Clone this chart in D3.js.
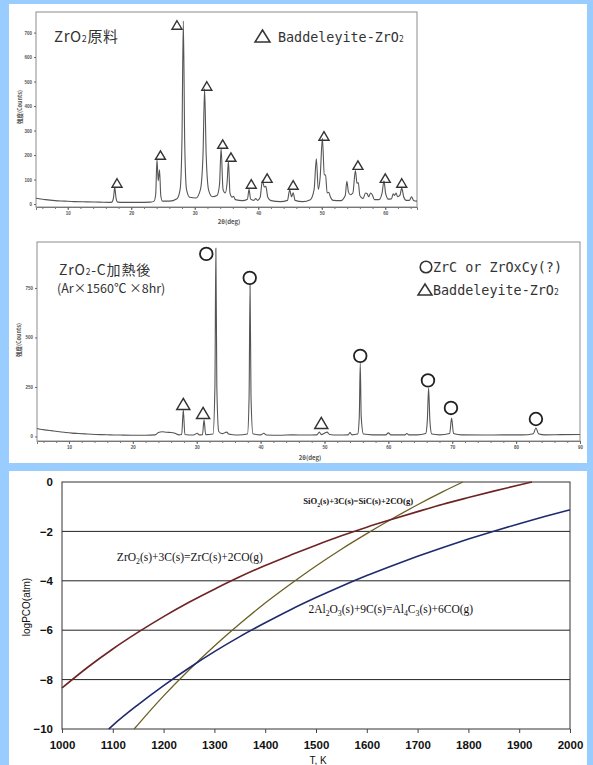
<!DOCTYPE html>
<html><head><meta charset="utf-8">
<script src="https://cdn.jsdelivr.net/npm/d3@7"></script>
<style>body{margin:0;background:#99ccff;} svg{display:block}</style>
</head><body>
<svg id="c" width="593" height="765"></svg>
<script>
// ---------- DATA ----------
// Panel 1: ZrO2 raw material XRD trace [2theta(deg), counts]
const rawTrace = [[5,24],[5.5,22],[6.5,18],[8,14],[9.5,12],[11,10],[13,9],[15,8],[16.6,7],
[16.95,8],[17.2,25],[17.4,68],[17.6,25],[17.85,8],[19,7],[21,7],[23,8],[23.6,12],
[23.85,40],[24.05,182],[24.25,95],[24.45,140],[24.65,35],[24.9,12],[26,12],[27.2,22],
[27.7,60],[27.98,250],[28.2,747],[28.42,250],[28.7,60],[29.2,28],[30.2,25],
[30.9,60],[31.3,200],[31.55,470],[31.8,200],[32.2,55],[32.8,30],[33.5,35],
[33.9,80],[34.15,228],[34.45,60],[34.8,45],[35.1,90],[35.3,175],[35.55,45],[35.9,28],[36.1,32],[36.4,18],[37.5,14],
[38.3,20],[38.55,60],[38.8,20],[39.3,15],[39.6,22],[39.9,15],[40.3,28],[40.65,95],[40.95,70],[41.2,72],[41.5,28],[42,14],[43.5,10],
[44.6,15],[44.95,58],[45.25,30],[45.5,46],[45.8,15],[47,10],[48.2,18],
[48.8,60],[49.15,185],[49.45,60],[49.75,110],[50.1,268],[50.4,120],[50.6,118],[50.85,45],[51.1,48],[51.35,30],[51.8,15],[53,14],
[53.7,35],[53.95,93],[54.2,50],[54.5,38],[54.9,45],[55.3,137],[55.55,85],[55.75,88],[56.0,35],[56.5,22],[56.9,45],[57.15,42],[57.4,30],[57.7,45],[57.95,38],[58.3,18],[59,18],
[59.5,45],[59.8,95],[60.05,45],[60.5,20],[61,22],[61.25,42],[61.45,35],[61.7,45],[61.95,30],[62.3,35],[62.6,65],[62.9,30],[63.3,15],[63.8,15],[64.15,30],[64.45,15],[65,12]];
const rawTriangles = [[17.76,86],[24.6,200],[27.2,731],[31.9,482],[34.4,245],[35.7,192],[38.9,82],[41.4,106],[45.5,78],[50.35,278],[55.7,159],[60.0,106],[62.6,86]];
const rawXTicks = [10,20,30,40,50,60];
const rawYTicks = [0,100,200,300,400,500,600,700];

// Panel 2: ZrO2-C after heating XRD trace [2theta(deg), counts]
const heatTrace = [[5,40],[5.5,36],[6.5,32],[7.5,28],[8.5,24],[9.5,20],[10.5,17],[11.5,15],[12.5,13],[13.5,11],[15,9],[16.5,8],[18,7],[20,6],[22,6],[23.5,8],[24,20],[24.6,24],[25.3,21],[26,20],[26.6,16],[27.2,8],
[27.65,10],[27.9,134],[28.15,10],[29.5,7],[30.1,16],[30.4,8],[30.9,9],[31.15,84],[31.4,9],
[32.55,12],[32.85,250],[33.0,950],[33.15,250],[33.45,25],[34.0,14],[34.7,22],[35.0,12],[35.4,10],[36.5,7],
[37.95,12],[38.2,200],[38.35,765],[38.5,200],[38.8,14],[40,8],[40.5,16],[40.9,7],[43,6],[45,8],[47,7],[48.8,8],[49.2,22],[49.5,9],[50.0,16],[50.4,22],[50.8,10],[52,7],
[53.7,8],[54.0,20],[54.3,8],[55.2,12],[55.45,100],[55.6,371],[55.75,100],[56.1,12],[57.5,8],[59.6,8],[60.0,18],[60.4,8],[62.6,8],[62.9,15],[63.2,8],[64.5,8],
[65.85,15],[66.1,80],[66.3,245],[66.5,80],[66.8,12],[68,8],[69.6,15],[69.9,93],[70.2,15],[71.5,8],[75,7],[78,8],[81,8],[82.7,14],[83.1,43],[83.5,14],[84.5,8],[87,9],[90,10]];
const heatCircles = [[31.5,922],[38.3,801],[55.6,407],[66.2,283],[69.8,144],[83.1,88]];
const heatTriangles = [[27.9,164],[31.0,119],[49.5,68]];
const heatXTicks = [10,20,30,40,50,60,70,80,90];
const heatYTicks = [0,250,500,750];

// Panel 3: log PCO (atm) vs T (K)
const zro2Curve = [[1000,-8.34],[1050,-7.51],[1100,-6.76],[1150,-6.08],[1200,-5.45],[1250,-4.87],[1300,-4.34],[1350,-3.84],[1400,-3.38],[1450,-2.96],[1500,-2.56],[1550,-2.18],[1600,-1.83],[1650,-1.51],[1700,-1.20],[1750,-0.90],[1800,-0.63],[1850,-0.37],[1900,-0.12],[1925,0]];
const sio2Curve = [[1142,-10],[1150,-9.81],[1200,-8.66],[1250,-7.61],[1300,-6.64],[1350,-5.74],[1400,-4.90],[1450,-4.13],[1500,-3.40],[1550,-2.72],[1600,-2.09],[1650,-1.49],[1700,-0.92],[1750,-0.39],[1789,0]];
const al2o3Curve = [[1092,-10],[1100,-9.85],[1150,-9.01],[1200,-8.24],[1250,-7.53],[1300,-6.87],[1350,-6.26],[1400,-5.70],[1450,-5.17],[1500,-4.68],[1550,-4.22],[1600,-3.79],[1650,-3.39],[1700,-3.01],[1750,-2.65],[1800,-2.31],[1850,-1.99],[1900,-1.69],[1950,-1.40],[2000,-1.13]];
const tempTicks = [1000,1100,1200,1300,1400,1500,1600,1700,1800,1900,2000];
const logPTicks = [0,-2,-4,-6,-8,-10];
const gridLevels = [-2,-4,-6,-8];

// ---------- DRAW ----------
const svg = d3.select('#c');
svg.append('rect').attr('width',593).attr('height',765).attr('fill','#99ccff');
svg.append('rect').attr('x',9).attr('y',4).attr('width',578).attr('height',459).attr('fill','#fff');
svg.append('rect').attr('x',9).attr('y',471).attr('width',578).attr('height',294).attr('fill','#fff');

const JP = '"Noto Sans CJK JP", "Noto Sans", sans-serif';
const MONO = '"DejaVu Sans Mono", "Liberation Mono", monospace';

function triPath(cx, cy, w, h) {
  return `M${cx},${cy - h/2}L${cx + w/2},${cy + h/2}L${cx - w/2},${cy + h/2}Z`;
}

function xrdPanel(c) {
  const x = d3.scaleLinear().domain(c.xDom).range([c.x0, c.x1]);
  const y = d3.scaleLinear().domain(c.yDom).range([c.y1, c.y0]);
  const g = svg.append('g');
  g.append('rect').attr('x', c.x0).attr('y', c.y0).attr('width', c.x1 - c.x0).attr('height', c.y1 - c.y0)
    .attr('fill', 'none').attr('stroke', '#8c8c8c').attr('stroke-width', 1);
  g.append('path').datum(c.trace)
    .attr('d', d3.line().x(d => x(d[0])).y(d => y(d[1])).curve(d3.curveMonotoneX))
    .attr('fill', 'none').attr('stroke', '#555').attr('stroke-width', 1.1);
  const minor = g.append('g').attr('transform', `translate(0,${c.y1})`)
    .call(d3.axisBottom(x).tickValues(d3.range(c.xDom[0] + 1, c.xDom[1], 2)).tickSize(2).tickFormat(''));
  minor.select('.domain').remove();
  minor.selectAll('line').attr('stroke', '#777');
  const xa = g.append('g').attr('transform', `translate(0,${c.y1})`)
    .call(d3.axisBottom(x).tickValues(c.xTicks).tickSize(3).tickPadding(2));
  xa.select('.domain').attr('stroke', '#777');
  xa.selectAll('line').attr('stroke', '#666');
  xa.selectAll('text').attr('font-size', 4.5).attr('fill', '#555').attr('font-family', 'Liberation Sans, Arial').attr('font-weight', 'bold');
  const ya = g.append('g').attr('transform', `translate(${c.x0},0)`)
    .call(d3.axisLeft(y).tickValues(c.yTicks).tickSize(2).tickPadding(2));
  ya.select('.domain').remove();
  ya.selectAll('line').attr('stroke', '#666');
  ya.selectAll('text').attr('font-size', 4.5).attr('fill', '#555').attr('font-family', 'Liberation Sans, Arial').attr('font-weight', 'bold');
  g.append('text').attr('x', c.xLabel[0]).attr('y', c.xLabel[1]).attr('text-anchor', 'middle')
    .attr('font-size', 6).attr('font-weight', 'bold').attr('fill', '#555').attr('font-family', JP).text('2θ(deg)');
  g.append('text').attr('transform', `translate(${c.yLabel[0]},${c.yLabel[1]}) rotate(-90)`).attr('text-anchor', 'middle')
    .attr('font-size', 5.5).attr('font-weight', 'bold').attr('fill', '#555').attr('font-family', JP).text('強度(Counts)');
  return {x, y, g};
}

// Panel 1
const p1 = xrdPanel({x0: 36, x1: 417, y0: 12, y1: 207, xDom: [5, 65], yDom: [-12, 784],
  trace: rawTrace, xTicks: rawXTicks, yTicks: rawYTicks, xLabel: [229, 224], yLabel: [22, 107]});
p1.g.selectAll('.tri').data(rawTriangles).join('path')
  .attr('d', d => triPath(p1.x(d[0]), p1.y(d[1]), 10, 8.5))
  .attr('fill', 'none').attr('stroke', '#333').attr('stroke-width', 1.4);
const t1 = p1.g.append('text').attr('x', 54).attr('y', 42).attr('font-family', JP).attr('font-size', 15)
  .attr('fill', '#333').attr('letter-spacing', 0.6);
t1.append('tspan').text('ZrO');
t1.append('tspan').attr('font-size', 9).text('2');
t1.append('tspan').text('原料');
p1.g.append('path').attr('d', triPath(262.5, 36, 15, 12)).attr('fill', 'none').attr('stroke', '#333').attr('stroke-width', 1.5);
const l1 = p1.g.append('text').attr('x', 278).attr('y', 41.5).attr('font-family', MONO).attr('font-size', 13.4).attr('fill', '#333');
l1.append('tspan').text('Baddeleyite-ZrO');
l1.append('tspan').attr('font-size', 8).text('2');

// Panel 2
const p2 = xrdPanel({x0: 37, x1: 580, y0: 242, y1: 441, xDom: [5, 90], yDom: [-23, 982],
  trace: heatTrace, xTicks: heatXTicks, yTicks: heatYTicks, xLabel: [310, 460], yLabel: [21, 340]});
p2.g.selectAll('.circ').data(heatCircles).join('circle')
  .attr('cx', d => p2.x(d[0])).attr('cy', d => p2.y(d[1])).attr('r', 6.3)
  .attr('fill', 'none').attr('stroke', '#222').attr('stroke-width', 1.8);
p2.g.selectAll('.tri2').data(heatTriangles).join('path')
  .attr('d', d => triPath(p2.x(d[0]), p2.y(d[1]), 13, 11))
  .attr('fill', 'none').attr('stroke', '#333').attr('stroke-width', 1.5);
const t2 = p2.g.append('text').attr('x', 59).attr('y', 275).attr('font-family', JP).attr('font-size', 14)
  .attr('fill', '#333').attr('letter-spacing', 0.8);
t2.append('tspan').text('ZrO');
t2.append('tspan').attr('font-size', 8.5).text('2');
t2.append('tspan').text('-C加熱後');
p2.g.append('text').attr('x', 57).attr('y', 293).attr('font-family', JP).attr('font-size', 12.5)
  .attr('fill', '#333').text('(Ar×1560℃ ×8hr)');
p2.g.append('circle').attr('cx', 426).attr('cy', 267).attr('r', 5.8).attr('fill', 'none').attr('stroke', '#333').attr('stroke-width', 1.6);
p2.g.append('text').attr('x', 433).attr('y', 272).attr('font-family', MONO).attr('font-size', 13.4).attr('fill', '#333').text('ZrC or ZrOxCy(?)');
p2.g.append('path').attr('d', triPath(425, 289.5, 14, 11)).attr('fill', 'none').attr('stroke', '#333').attr('stroke-width', 1.5);
const l2 = p2.g.append('text').attr('x', 433).attr('y', 295).attr('font-family', MONO).attr('font-size', 13.4).attr('fill', '#333');
l2.append('tspan').text('Baddeleyite-ZrO');
l2.append('tspan').attr('font-size', 8).text('2');

// Panel 3
const tx = d3.scaleLinear().domain([1000, 2000]).range([62, 570]);
const ty = d3.scaleLinear().domain([-10, 0]).range([729, 482]);
const g3 = svg.append('g');
g3.selectAll('.grid').data(gridLevels).join('line')
  .attr('x1', tx(1000)).attr('x2', tx(2000)).attr('y1', d => ty(d)).attr('y2', d => ty(d))
  .attr('stroke', '#222').attr('stroke-width', 1);
g3.append('rect').attr('x', tx(1000)).attr('y', ty(0)).attr('width', tx(2000) - tx(1000)).attr('height', ty(-10) - ty(0))
  .attr('fill', 'none').attr('stroke', '#333').attr('stroke-width', 1);
const xa3 = g3.append('g').attr('transform', `translate(0,${ty(-10)})`)
  .call(d3.axisBottom(tx).tickValues(tempTicks).tickSize(4).tickPadding(8).tickFormat(d3.format('d')));
xa3.select('.domain').remove();
xa3.selectAll('line').attr('stroke', '#444');
xa3.selectAll('text').attr('font-size', 11.5).attr('font-weight', 'bold').attr('fill', '#111').attr('font-family', '"Liberation Sans", Arial, sans-serif');
const ya3 = g3.append('g').attr('transform', `translate(${tx(1000)},0)`)
  .call(d3.axisLeft(ty).tickValues(logPTicks).tickSize(0).tickPadding(9).tickFormat(d3.format('d')));
ya3.select('.domain').remove();
ya3.selectAll('text').attr('font-size', 11.5).attr('font-weight', 'bold').attr('fill', '#111').attr('font-family', '"Liberation Sans", Arial, sans-serif');
g3.append('text').attr('x', 318).attr('y', 764).attr('text-anchor', 'middle').attr('font-size', 10)
  .attr('font-family', '"Liberation Sans", Arial, sans-serif').attr('fill', '#111').text('T, K');
g3.append('text').attr('transform', 'translate(30,607) rotate(-90)').attr('text-anchor', 'middle').attr('font-size', 10)
  .attr('font-family', '"Liberation Sans", Arial, sans-serif').attr('fill', '#111').text('logPCO(atm)');

const line3 = d3.line().x(d => tx(d[0])).y(d => ty(d[1])).curve(d3.curveMonotoneX);
g3.append('path').datum(sio2Curve).attr('d', line3).attr('fill', 'none').attr('stroke', '#6b5f22').attr('stroke-width', 1.3);
g3.append('path').datum(al2o3Curve).attr('d', line3).attr('fill', 'none').attr('stroke', '#1f2a6e').attr('stroke-width', 1.6);
g3.append('path').datum(zro2Curve).attr('d', line3).attr('fill', 'none').attr('stroke', '#6e2424').attr('stroke-width', 1.6);

function chem(g, xPos, yPos, size, parts) {
  const t = g.append('text').attr('x', xPos).attr('y', yPos).attr('font-family', '"Liberation Serif", "Times New Roman", serif')
    .attr('font-size', size).attr('fill', '#111');
  const shift = size * 0.28;
  let lowered = false;
  parts.forEach(p => {
    if (typeof p === 'string') {
      t.append('tspan').attr('dy', lowered ? -shift : 0).text(p);
      lowered = false;
    } else {
      t.append('tspan').attr('font-size', size * 0.68).attr('dy', lowered ? 0 : shift).text(p.sub);
      lowered = true;
    }
  });
  return t;
}
chem(g3, tx(1475), ty(-0.9), 8.6, ['SiO', {sub: '2'}, '(s)+3C(s)=SiC(s)+2CO(g)']).attr('font-weight', 'bold');
chem(g3, tx(1108), ty(-3.2), 11.5, ['ZrO', {sub: '2'}, '(s)+3C(s)=ZrC(s)+2CO(g)']);
chem(g3, tx(1485), ty(-5.3), 11.5, ['2Al', {sub: '2'}, 'O', {sub: '3'}, '(s)+9C(s)=Al', {sub: '4'}, 'C', {sub: '3'}, '(s)+6CO(g)']);
</script>
</body></html>
